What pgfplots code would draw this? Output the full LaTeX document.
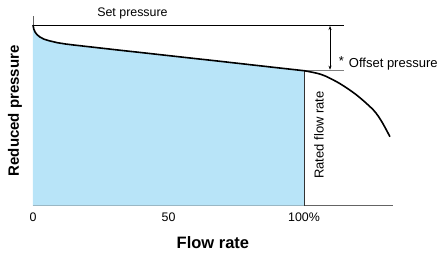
\documentclass[border=0pt]{standalone}
\usepackage{pgfplots}
\pgfplotsset{compat=1.18}
\usepackage{fontspec}
\setmainfont{Liberation Sans}
\usetikzlibrary{arrows.meta}
\definecolor{fillblue}{RGB}{184,228,248}
\definecolor{axgray}{RGB}{100,100,100}
\begin{document}
\begin{tikzpicture}
\path[use as bounding box] (-33pt,-48.3pt) rectangle (408pt,205.7pt);
\begin{axis}[
  at={(0,0)}, anchor=south west,
  scale only axis, width=359.9pt, height=189.7pt,
  xmin=0, xmax=132.8, ymin=0, ymax=189.7,
  axis x line=bottom, axis y line=left,
  axis line style={axgray, line width=0.9pt, -},
  xtick={0,50,100}, xticklabels={0,50,100\%},
  ytick=\empty,
  major tick length=7pt, tick align=inside,
  tick style={axgray, line width=0.8pt},
  xticklabel style={font=\fontsize{12.4}{14}\selectfont, anchor=base, yshift=-15.3pt},
  xlabel={Flow rate}, ylabel={Reduced pressure},
  xlabel style={font=\fontsize{16.5}{18}\selectfont\bfseries, at={(axis description cs:0.5,-0.194)}, anchor=center},
  ylabel style={font=\fontsize{15}{18}\selectfont\bfseries, at={(axis description cs:-0.05,0.5)}, anchor=center},
  clip=false,
]
% filled area under the curve up to rated flow
\addplot[fill=fillblue, draw=none] coordinates {
 (0,0) (0,180.7) (0.3,176.5) (0.8,173.5) (1.5,171.0) (2.5,168.8) (4,166.6) (6,164.9) (9,163.0) (12,161.7) (15,160.7)
 (30,156.1) (50,150.1) (70,144.1) (90,138.0) (100,135) (100,0)} -- cycle;
% set pressure line
\addplot[black, line width=0.8pt] coordinates {(0,180.7) (114.8,180.7)};
% offset reference line
\addplot[gray, line width=0.8pt] coordinates {(100,135) (114.8,135)};
% rated flow line
\addplot[black!80, line width=0.8pt] coordinates {(100,0) (100,135)};
% characteristic curve
\addplot[black, line width=1.6pt] coordinates {
 (0,180.7) (0.3,176.5) (0.8,173.5) (1.5,171.0) (2.5,168.8) (4,166.6) (6,164.9) (9,163.0) (12,161.7) (15,160.7)
 (30,156.1) (50,150.1) (70,144.1) (90,138.0) (100,135)};
\addplot[black, line width=1.6pt, smooth] coordinates {
 (100,135) (102,134) (105,132.3) (108,129.5) (113.3,122) (119.4,110.7) (125.6,95.7) (128.7,84) (131.7,69)};
% offset arrow
\addplot[black, line width=0.6pt, {Stealth[length=4pt,width=3pt]}-{Stealth[length=4pt,width=3pt]}] coordinates {(109.6,179.7) (109.6,136)};
\node[font=\fontsize{12.4}{14}\selectfont] at (axis cs:36.7,192.7) {Set pressure};
\node[font=\fontsize{13}{14}\selectfont, anchor=west, inner sep=0pt] at (axis cs:112.8,142.7) {\raisebox{2pt}{*}\hspace{5pt}Offset pressure};
\node[font=\fontsize{13}{14}\selectfont, rotate=90] at (axis cs:105.5,70.7) {Rated flow rate};
\end{axis}
\end{tikzpicture}
\end{document}
